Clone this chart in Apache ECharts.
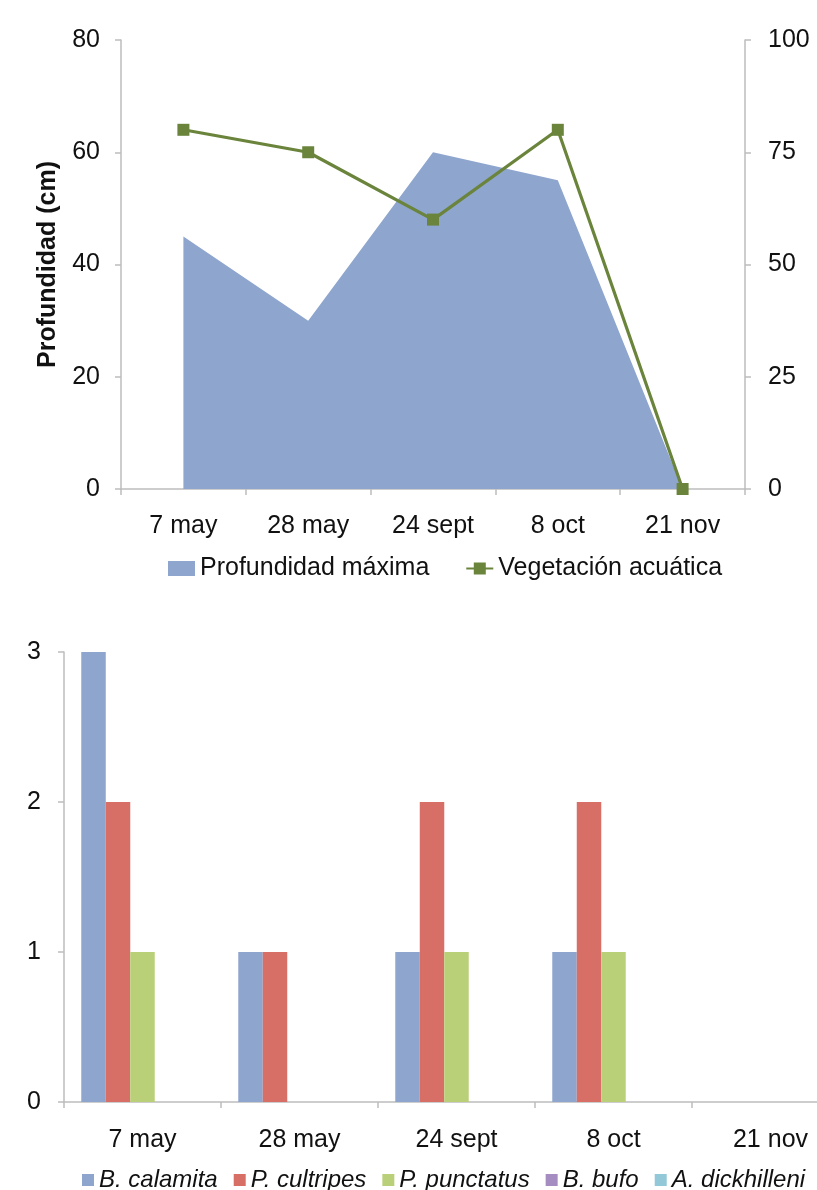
<!DOCTYPE html>
<html><head><meta charset="utf-8">
<script src="https://cdn.jsdelivr.net/npm/echarts@6/dist/echarts.min.js"></script>
<style>html,body{margin:0;padding:0;background:#fff;overflow:hidden;width:817px;height:1190px}#c{width:850px;height:1190px}</style>
</head><body><div id="c"></div>
<script>
const categories = ['7 may', '28 may', '24 sept', '8 oct', '21 nov'];
const profundidad = [45, 30, 60, 55, 0];
const vegetacion = [80, 75, 60, 80, 0];
const leftTicks = {min: 0, max: 80, interval: 20};
const rightTicks = {min: 0, max: 100, interval: 25};
const species = ['B. calamita', 'P. cultripes', 'P. punctatus', 'B. bufo', 'A. dickhilleni'];
const calamita = [3, 1, 1, 1, 0];
const cultripes = [2, 1, 2, 2, 0];
const punctatus = [1, 0, 1, 1, 0];
const bufo = [0, 0, 0, 0, 0];
const dickhilleni = [0, 0, 0, 0, 0];
const speciesValues = [calamita, cultripes, punctatus, bufo, dickhilleni];
const speciesColors = ['#8EA5CE', '#D76F67', '#BAD078', '#A58CC1', '#92C8D8'];

const FONT = 'Liberation Sans, Arial, sans-serif';
const TXT = '#111111';
const AX = '#BDBDBD';
const FS = 25;
const axisLine = {show: true, lineStyle: {color: AX, width: 1.5}};
const axisTick = {show: true, length: 6, lineStyle: {color: AX, width: 1.5}};

const chart = echarts.init(document.getElementById('c'));
chart.setOption({
  animation: false,
  textStyle: {fontFamily: FONT},
  grid: [
    {left: 121, top: 40, right: 105, height: 449},
    {left: 64, top: 652, right: 1, height: 450}
  ],
  legend: [
    {left: 163, top: 551, itemGap: 36, itemWidth: 27, itemHeight: 15,
     textStyle: {fontSize: FS, color: TXT, fontFamily: FONT},
     data: [{name: 'Profundidad máxima', icon: 'rect'}, {name: 'Vegetación acuática'}]},
    {left: 77, top: 1163, itemGap: 16, itemWidth: 12, itemHeight: 12, icon: 'rect',
     textStyle: {fontSize: FS - 1, color: TXT, fontStyle: 'italic', fontFamily: FONT},
     data: species}
  ],
  xAxis: [
    {type: 'category', gridIndex: 0, data: categories, boundaryGap: true,
     axisLine, axisTick,
     axisLabel: {fontSize: FS, color: TXT, margin: 25}},
    {type: 'category', gridIndex: 1, data: categories, boundaryGap: true,
     axisLine, axisTick,
     axisLabel: {fontSize: FS, color: TXT, margin: 26}}
  ],
  yAxis: [
    {type: 'value', gridIndex: 0, min: leftTicks.min, max: leftTicks.max, interval: leftTicks.interval,
     name: 'Profundidad (cm)', nameLocation: 'middle', nameGap: 60, nameRotate: 90,
     nameTextStyle: {fontSize: FS, fontWeight: 'bold', color: TXT, fontFamily: FONT},
     axisLine, axisTick, splitLine: {show: false},
     axisLabel: {fontSize: FS, color: TXT, margin: 21}},
    {type: 'value', gridIndex: 0, position: 'right', min: rightTicks.min, max: rightTicks.max, interval: rightTicks.interval,
     axisLine, axisTick, splitLine: {show: false},
     axisLabel: {fontSize: FS, color: TXT, margin: 23}},
    {type: 'value', gridIndex: 1, min: 0, max: 3, interval: 1,
     axisLine, axisTick, splitLine: {show: false},
     axisLabel: {fontSize: FS, color: TXT, margin: 23}}
  ],
  series: [
    {name: 'Profundidad máxima', type: 'line', xAxisIndex: 0, yAxisIndex: 0, data: profundidad,
     symbol: 'none', itemStyle: {color: '#8EA5CE'}, lineStyle: {width: 0, color: '#8EA5CE'},
     areaStyle: {color: '#8EA5CE', opacity: 1}, z: 1},
    {name: 'Vegetación acuática', type: 'line', xAxisIndex: 0, yAxisIndex: 1, data: vegetacion,
     symbol: 'rect', symbolSize: 12, itemStyle: {color: '#6A843C'}, lineStyle: {width: 3.2, color: '#6A843C'}, z: 3}
  ].concat(species.map((s, i) => ({
    name: s, type: 'bar', xAxisIndex: 1, yAxisIndex: 2, data: speciesValues[i],
    itemStyle: {color: speciesColors[i]}, barGap: '0%', barCategoryGap: '22%'
  })))
});
</script></body></html>
